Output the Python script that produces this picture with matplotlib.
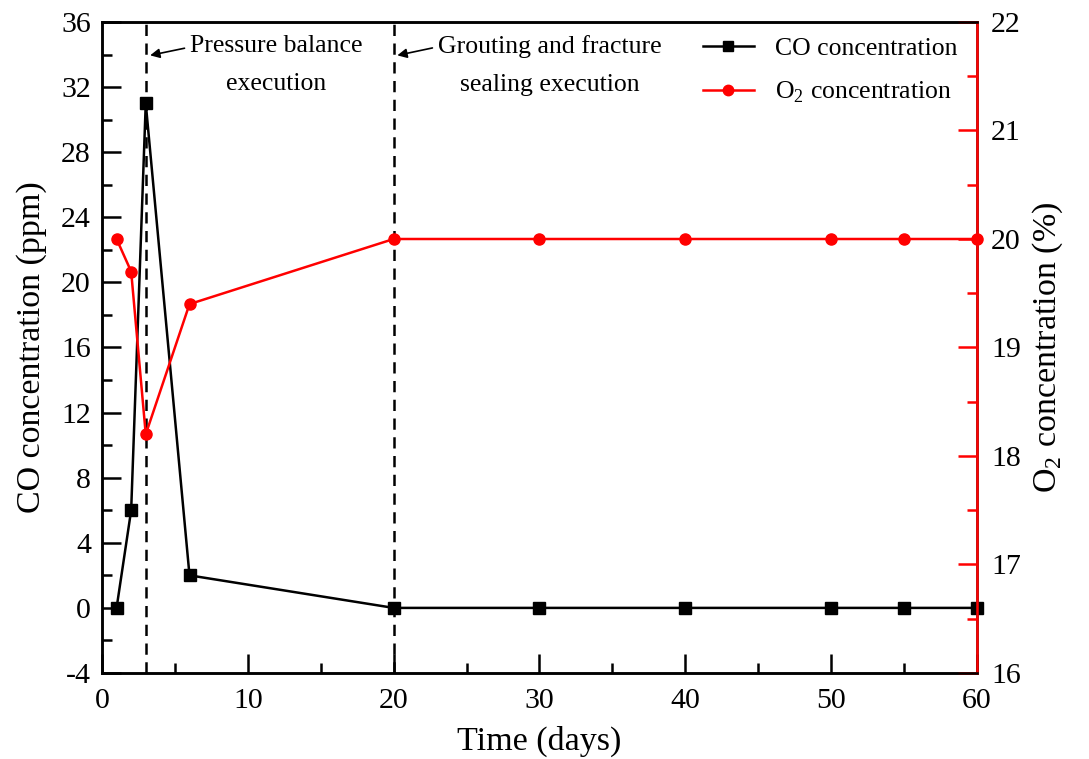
import matplotlib
matplotlib.use("Agg")
import matplotlib.pyplot as plt
from matplotlib.ticker import MultipleLocator

plt.rcParams['font.family'] = ['Liberation Serif', 'DejaVu Serif']
plt.rcParams['mathtext.fontset'] = 'custom'
plt.rcParams['mathtext.rm'] = 'Liberation Serif'
plt.rcParams['axes.unicode_minus'] = False

days = [1, 2, 3, 6, 20, 30, 40, 50, 55, 60]
co_ppm = [0, 6, 31, 2, 0, 0, 0, 0, 0, 0]
o2_pct = [20, 19.7, 18.2, 19.4, 20, 20, 20, 20, 20, 20]
event_days = [3, 20]
event_labels = ["Pressure balance\nexecution", "Grouting and fracture\nsealing execution"]

fig = plt.figure(figsize=(10.89, 7.59), dpi=100)
ax = fig.add_axes([102/1089, 1-673/759, (977-102)/1089, (673-22)/759])
ax2 = ax.twinx()

l1, = ax.plot(days, co_ppm, color='black', marker='s', markersize=8, lw=1.8,
              label='CO concentration', clip_on=False, zorder=5)
l2, = ax2.plot(days, o2_pct, color='#ff0000', marker='o', markersize=8, lw=1.8,
               label='O$_2$ concentration', clip_on=False, zorder=5)

for d in event_days:
    ax.axvline(d, color='black', ls=(0, (4.5, 3)), lw=1.8)

ax.set_xlim(0, 60)
ax.set_ylim(-4, 36)
ax2.set_ylim(16, 22)
ax.xaxis.set_major_locator(MultipleLocator(10))
ax.xaxis.set_minor_locator(MultipleLocator(5))
ax.yaxis.set_major_locator(MultipleLocator(4))
ax.yaxis.set_minor_locator(MultipleLocator(2))
ax2.yaxis.set_major_locator(MultipleLocator(1))
ax2.yaxis.set_minor_locator(MultipleLocator(0.5))

ax.tick_params(axis='both', which='major', direction='in', length=14, width=1.8, labelsize=21.5)
ax.tick_params(axis='both', which='minor', direction='in', length=7, width=1.8)
ax.tick_params(axis='x', which='major', pad=11)
ax.tick_params(axis='y', which='major', pad=8)
ax.tick_params(axis='y', right=False, which='both')
ax.tick_params(axis='x', top=False, which='both')
ax2.tick_params(axis='y', which='major', direction='in', length=14, width=1.8, labelsize=21.5,
                labelcolor='black', pad=10)
ax2.tick_params(axis='y', which='minor', direction='in', length=7, width=1.8)
ax2.tick_params(axis='y', which='both', color='#ff0000')

for s in ax.spines.values():
    s.set_linewidth(1.8)
for s in ax2.spines.values():
    s.set_linewidth(1.8)
ax2.spines['right'].set_color('#ff0000')

ax.set_xlabel('Time (days)', fontsize=24.5, labelpad=8)
ax.set_ylabel('CO concentration (ppm)', fontsize=24.5, labelpad=10)
ax2.set_ylabel('O$_2$ concentration (%)', fontsize=24.5, labelpad=7)

# annotations
ax.annotate(event_labels[0], xy=(3.3, 33.95), xytext=(11.95, 33.35),
            fontsize=18.5, ha='center', va='center', linespacing=1.95,
            arrowprops=dict(arrowstyle='-|>', color='black', lw=1.2, mutation_scale=14,
                            shrinkA=2, shrinkB=0, relpos=(0.0, 0.8)))
ax.annotate(event_labels[1], xy=(20.25, 33.95), xytext=(30.7, 33.35),
            fontsize=18.5, ha='center', va='center', linespacing=1.95,
            arrowprops=dict(arrowstyle='-|>', color='black', lw=1.2, mutation_scale=14,
                            shrinkA=2, shrinkB=0, relpos=(0.0, 0.8)))

leg = ax.legend(handles=[l1, l2], loc='upper right', frameon=False, fontsize=18.5,
                handlelength=2.0, borderaxespad=0.2, labelspacing=0.75, handletextpad=0.8,
                bbox_to_anchor=(0.995, 1.0))
for h in leg.legend_handles:
    h.set_markersize(7.5)

fig.savefig('out.png', dpi=100)
